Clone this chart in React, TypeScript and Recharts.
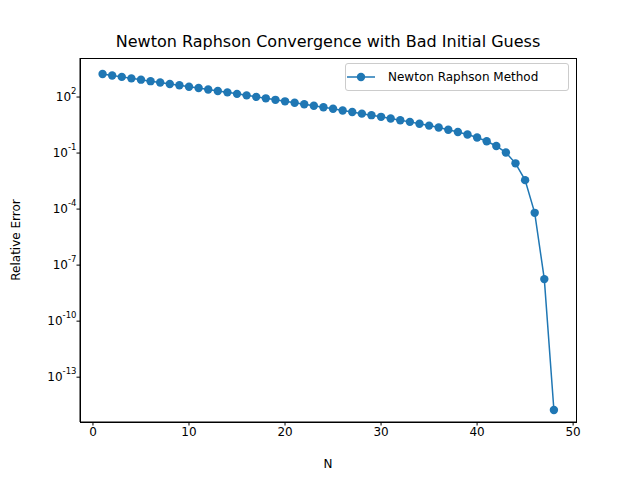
import { CartesianGrid, Line, LineChart, XAxis, YAxis } from 'recharts';

const BLUE = '#1f77b4';
const FONT = "'DejaVu Sans', sans-serif";

const iterations = [
  1, 2, 3, 4, 5, 6, 7, 8, 9, 10, 11, 12, 13, 14, 15, 16, 17, 18, 19, 20, 21, 22, 23, 24,
  25, 26, 27, 28, 29, 30, 31, 32, 33, 34, 35, 36, 37, 38, 39, 40, 41, 42, 43, 44, 45, 46, 47, 48,
];
const relErrors = [
  1.7e3, 1.41e3, 1.2e3, 1e3, 851, 708, 603, 501, 427, 355, 302, 251, 209, 178, 148, 123,
  102, 85.1, 70.8, 58.9, 49, 40.7, 33.9, 28.2, 23.4, 19.1, 15.8, 12.9, 10.7, 8.71, 7.08, 5.75,
  4.68, 3.72, 2.95, 2.34, 1.78, 1.35, 0.977, 0.676, 0.427, 0.24, 0.107, 0.0282, 0.00355,
  6.3e-5, 1.78e-8, 1.74e-15,
];
const xTicks = [0, 10, 20, 30, 40, 50];
const yTicks = [1e-13, 1e-10, 1e-7, 1e-4, 1e-1, 1e2];

const data = iterations.map((n, i) => ({ n, err: relErrors[i] }));

function YTick(props: any) {
  const { x, y, payload } = props;
  const exp = Math.round(Math.log10(payload.value));
  return (
    <text x={x + 2} y={y} textAnchor="end" fontFamily={FONT} fontSize={12} fill="#000">
      <tspan dy={4}>10</tspan>
      <tspan dy={-7} fontSize={8.5}>{exp}</tspan>
    </text>
  );
}

export default function App() {
  return (
    <div style={{ position: 'absolute', left: 0, top: 0, width: 640, height: 480, background: '#fff' }}>
      <div style={{ position: 'absolute', top: 32, left: 80, width: 496, textAlign: 'center', fontFamily: FONT, fontSize: 16 }}>
        Newton Raphson Convergence with Bad Initial Guess
      </div>
      <LineChart width={640} height={480} data={data} margin={{ top: 58, right: 64, left: 0, bottom: 0 }}>
        <CartesianGrid stroke="none" />
        <XAxis
          dataKey="n"
          type="number"
          domain={[-1.35, 50.3]}
          allowDataOverflow
          ticks={xTicks}
          height={58}
          stroke="#000"
          tick={{ fill: '#000', fontSize: 12, fontFamily: FONT }}
          tickSize={3.5}
          label={{ value: 'N', position: 'insideBottom', offset: 12, fill: '#000', fontSize: 12, fontFamily: FONT }}
        />
        <YAxis
          type="number"
          scale="log"
          domain={[Math.pow(10, -15.4), Math.pow(10, 4.09)]}
          allowDataOverflow
          ticks={yTicks}
          width={80}
          stroke="#000"
          tick={<YTick />}
          tickSize={3.5}
          label={{ value: 'Relative Error', angle: -90, position: 'insideLeft', offset: 16, fill: '#000', fontSize: 12, fontFamily: FONT, style: { textAnchor: 'middle' } }}
        />
        <Line
          dataKey="err"
          stroke={BLUE}
          strokeWidth={1.5}
          dot={{ r: 4.2, fill: BLUE, stroke: BLUE, strokeWidth: 0 }}
          isAnimationActive={false}
        />
      </LineChart>
      <div style={{ position: 'absolute', left: 80, top: 58, width: 495, height: 363, border: '1px solid #000', pointerEvents: 'none' }} />
      <div
        style={{
          position: 'absolute', left: 345, top: 63, width: 222, height: 26, border: '1px solid #ccc', borderRadius: 3,
          background: 'rgba(255,255,255,0.8)', display: 'flex', alignItems: 'center', fontFamily: FONT, fontSize: 12,
        }}
      >
        <svg width={30} height={12} style={{ marginLeft: 0, marginRight: 12 }}>
          <line x1={1} y1={6} x2={29} y2={6} stroke={BLUE} strokeWidth={1.5} />
          <circle cx={15} cy={6} r={4.2} fill={BLUE} />
        </svg>
        Newton Raphson Method
      </div>
    </div>
  );
}
